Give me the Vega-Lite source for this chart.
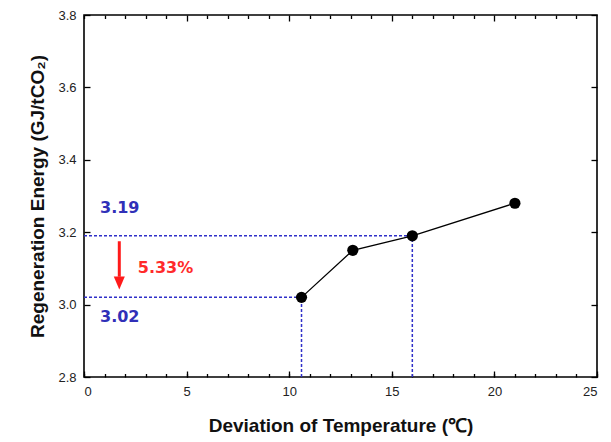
{
  "$schema": "https://vega.github.io/schema/vega-lite/v6.json",
  "width": 513,
  "height": 362,
  "autosize": {"type": "none"},
  "padding": {"left": 84, "top": 15, "right": 14, "bottom": 65},
  "background": "white",
  "config": {
    "view": {"stroke": "#000", "strokeWidth": 1.6},
    "axis": {
      "domain": false,
      "grid": false,
      "labelFont": "Liberation Sans",
      "labelFontSize": 13,
      "labelColor": "#222",
      "tickColor": "#000",
      "tickWidth": 1.3,
      "titleFont": "Liberation Sans",
      "titleFontSize": 19,
      "titleFontWeight": "bold",
      "titleColor": "#111"
    }
  },
  "datasets": {
    "curve": [
      {"deviation": 10.6, "energy": 3.02},
      {"deviation": 13.1, "energy": 3.15},
      {"deviation": 16.0, "energy": 3.19},
      {"deviation": 21.0, "energy": 3.28}
    ],
    "guides": [
      {"x": 0, "x2": 16.0, "y": 3.19, "y2": 3.19},
      {"x": 16.0, "x2": 16.0, "y": 2.8, "y2": 3.19},
      {"x": 0, "x2": 10.6, "y": 3.02, "y2": 3.02},
      {"x": 10.6, "x2": 10.6, "y": 2.8, "y2": 3.02}
    ],
    "labels": [
      {"x": 0.78, "y": 3.268, "label": "3.19", "kind": "value"},
      {"x": 0.78, "y": 2.965, "label": "3.02", "kind": "value"},
      {"x": 2.62, "y": 3.10, "label": "5.33%", "kind": "change"}
    ],
    "arrow": [
      {"x": 1.72, "from": 3.175, "to": 3.077, "head": 3.06}
    ]
  },
  "layer": [
    {
      "data": {"name": "guides"},
      "mark": {"type": "rule", "color": "#2f2fc8", "strokeWidth": 1.5, "strokeDash": [3, 2]},
      "encoding": {
        "x": {
          "field": "x", "type": "quantitative",
          "scale": {"domain": [0, 25], "nice": false, "zero": false},
          "axis": {"orient": "bottom", "values": [0, 5, 10, 15, 20, 25], "tickSize": -6, "labelPadding": 14, "title": "Deviation of Temperature (℃)", "titlePadding": 18}
        },
        "x2": {"field": "x2"},
        "y": {
          "field": "y", "type": "quantitative",
          "scale": {"domain": [2.8, 3.8], "nice": false, "zero": false},
          "axis": {"orient": "left", "values": [2.8, 3.0, 3.2, 3.4, 3.6, 3.8], "format": ".1f", "tickSize": -6, "labelPadding": 14, "title": "Regeneration Energy (GJ/tCO₂)", "titlePadding": 10}
        },
        "y2": {"field": "y2"}
      }
    },
    {
      "data": {"name": "curve"},
      "mark": {"type": "line", "color": "#000", "strokeWidth": 1.3},
      "encoding": {
        "x": {
          "field": "deviation", "type": "quantitative",
          "axis": {"orient": "bottom", "values": [0,1,2,3,4,5,6,7,8,9,10,11,12,13,14,15,16,17,18,19,20,21,22,23,24,25], "labels": false, "tickSize": -3.5, "title": null}
        },
        "y": {
          "field": "energy", "type": "quantitative",
          "axis": {"orient": "right", "values": [2.8, 3.0, 3.2, 3.4, 3.6, 3.8], "labels": false, "tickSize": -6, "title": null}
        }
      }
    },
    {
      "data": {"name": "curve"},
      "mark": {"type": "point", "shape": "circle", "filled": true, "color": "#000", "opacity": 1, "size": 125},
      "encoding": {
        "x": {
          "field": "deviation", "type": "quantitative",
          "axis": {"orient": "top", "values": [0,1,2,3,4,6,7,8,9,11,12,13,14,16,17,18,19,21,22,23,24], "labels": false, "tickSize": -3.5, "title": null}
        },
        "y": {"field": "energy", "type": "quantitative", "axis": null}
      }
    },
    {
      "data": {"name": "arrow"},
      "mark": {"type": "rule", "color": "#ff1a1a", "strokeWidth": 3},
      "encoding": {
        "x": {
          "field": "x", "type": "quantitative",
          "axis": {"orient": "top", "values": [5, 10, 15, 20], "labels": false, "tickSize": -6, "title": null}
        },
        "y": {"field": "from", "type": "quantitative", "axis": null},
        "y2": {"field": "to"}
      }
    },
    {
      "data": {"name": "arrow"},
      "mark": {"type": "point", "shape": "M-0.85,-1L0.85,-1L0,1Z", "filled": true, "color": "#ff1a1a", "opacity": 1, "size": 169},
      "encoding": {
        "x": {"field": "x", "type": "quantitative", "axis": null},
        "y": {"field": "head", "type": "quantitative", "axis": null}
      }
    },
    {
      "data": {"name": "labels"},
      "mark": {"type": "text", "align": "left", "baseline": "middle", "font": "DejaVu Sans", "fontSize": 16, "fontWeight": "bold"},
      "encoding": {
        "x": {"field": "x", "type": "quantitative", "axis": null},
        "y": {"field": "y", "type": "quantitative", "axis": null},
        "text": {"field": "label"},
        "color": {
          "field": "kind", "type": "nominal",
          "scale": {"domain": ["value", "change"], "range": ["#3030b8", "#ff2a2a"]},
          "legend": null
        }
      }
    }
  ],
  "resolve": {"axis": {"x": "independent", "y": "independent"}}
}
